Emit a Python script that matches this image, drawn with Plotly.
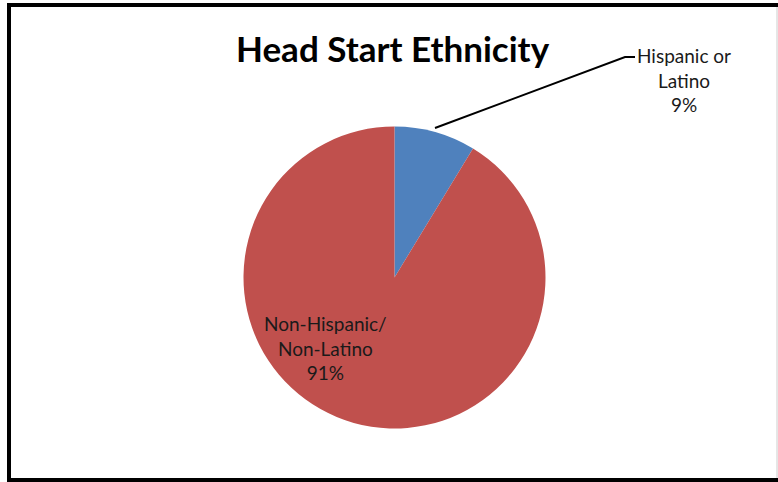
import plotly.graph_objects as go

# Data
categories = ["Hispanic or Latino", "Non-Hispanic/ Non-Latino"]
label_lines = [["Hispanic or", "Latino"], ["Non-Hispanic/", "Non-Latino"]]
values = [8.7, 91.3]
colors = ["#4F81BD", "#C0504D"]
title_text = "Head Start Ethnicity"

W, H = 778, 482
total = sum(values)
pcts = [round(v / total * 100) for v in values]

def px(x):
    return x / W

def py(y):
    return 1 - y / H

fig = go.Figure()
fig.add_trace(go.Pie(
    labels=categories,
    values=values,
    sort=False,
    direction="clockwise",
    rotation=0,
    marker=dict(colors=colors, line=dict(width=0)),
    textinfo="none",
    hoverinfo="label+percent",
    showlegend=False,
    domain=dict(x=[px(243.5), px(545.5)], y=[py(429), py(126)]),
))

font_lbl = dict(family="Lato, Open Sans, sans-serif", size=19, color="#1a1a1a")
annotations = [
    dict(text="<b>" + title_text + "</b>", x=px(393), y=py(48), xref="paper", yref="paper",
         showarrow=False, xanchor="center", yanchor="middle",
         font=dict(family="Lato, Open Sans, sans-serif", size=35, color="#000000")),
    dict(text="<br>".join(label_lines[0] + [f"{pcts[0]}%"]), x=px(684), y=py(80),
         xref="paper", yref="paper", showarrow=False, xanchor="center", yanchor="middle",
         align="center", font=font_lbl),
    dict(text="<br>".join(label_lines[1] + [f"{pcts[1]}%"]), x=px(325), y=py(348),
         xref="paper", yref="paper", showarrow=False, xanchor="center", yanchor="middle",
         align="center", font=font_lbl),
]

shapes = [
    # leader line
    dict(type="path", xref="paper", yref="paper",
         path=f"M {px(435)} {py(128)} L {px(625)} {py(57)} L {px(635)} {py(57)}",
         line=dict(color="#000000", width=2)),
    # chart border
    dict(type="rect", xref="paper", yref="paper",
         x0=px(9), x1=px(800), y0=py(480), y1=py(5),
         line=dict(color="#000000", width=4)),
    dict(type="line", xref="paper", yref="paper",
         x0=px(777), x1=px(777), y0=py(7), y1=py(478),
         line=dict(color="#cccccc", width=1)),
]

fig.update_layout(
    width=W, height=H,
    margin=dict(l=0, r=0, t=0, b=0),
    paper_bgcolor="white",
    plot_bgcolor="white",
    annotations=annotations,
    shapes=shapes,
)

fig.write_html("out.html", config={"displayModeBar": False},
               post_script="document.body.style.margin='0';document.body.style.padding='0';")
